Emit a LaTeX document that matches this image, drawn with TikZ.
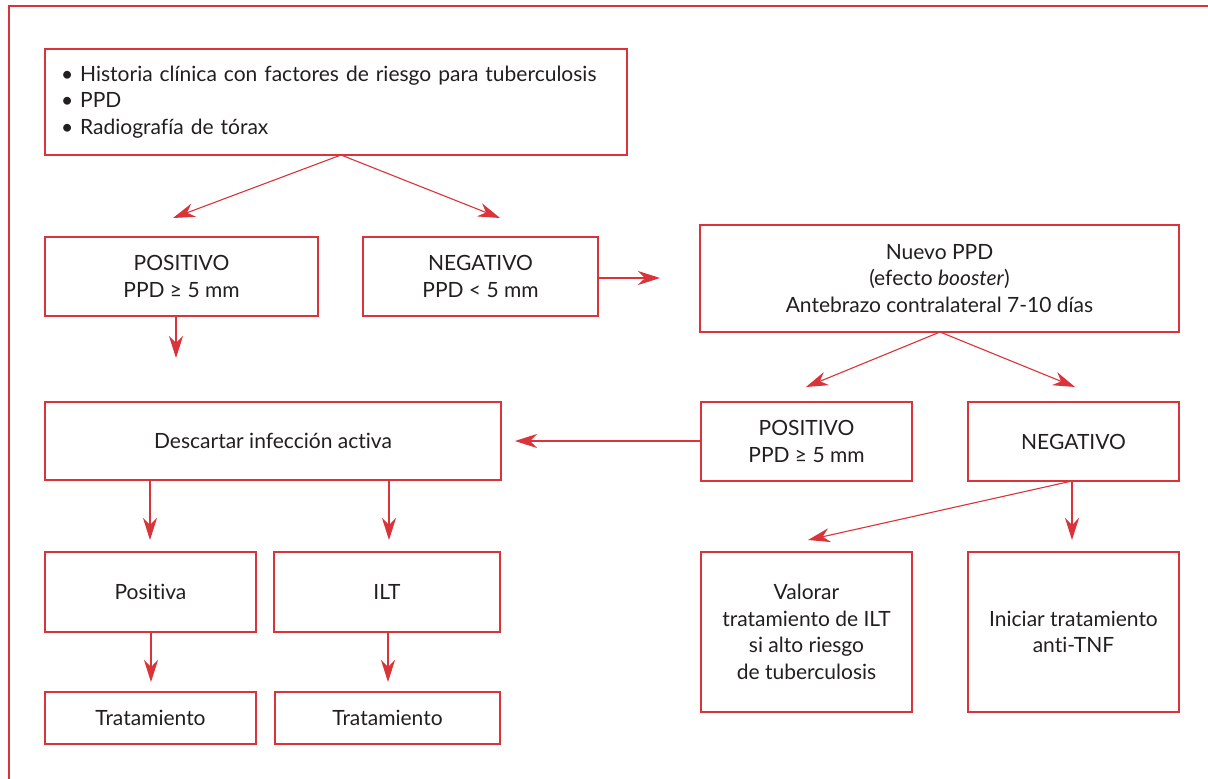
\documentclass[tikz,border=0pt]{standalone}
\usepackage{fontspec}
\setmainfont{Lato}[Ligatures=NoCommon]
\usetikzlibrary{arrows.meta}
\definecolor{fred}{RGB}{218,52,58}
\definecolor{ftext}{RGB}{35,31,32}
\begin{document}
\begin{tikzpicture}[x=1pt,y=-1pt,
  every node/.style={font=\fontsize{21}{26.5}\selectfont, text=ftext},
  box/.style={draw=fred, line width=1.3pt, inner sep=0pt, align=center},
  arr/.style={draw=fred, line width=1.1pt, -{Stealth[length=22pt,width=14pt,inset=7pt]}}]
\useasboundingbox (0,0) rectangle (1208,779);
\fill[white] (0,0) rectangle (1208,779);
% frame
\draw[fred, line width=1.4pt] (9,779) -- (9,6) -- (1208,6);
% boxes
\node[box, minimum width=582, minimum height=106, text width=550, align=left] (top) at (336,102)
  {• Historia clínica con factores de riesgo para tuberculosis\\• PPD\\• Radiografía de tórax};
\node[box, minimum width=273, minimum height=79] (pos1) at (181.5,276.5) {POSITIVO\\PPD ≥ 5 mm};
\node[box, minimum width=235, minimum height=79] (neg1) at (480.5,276.5) {NEGATIVO\\PPD < 5 mm};
\node[box, minimum width=479, minimum height=107] (nuevo) at (939.5,278.5)
  {Nuevo PPD\\(efecto \textit{booster})\\Antebrazo contralateral 7-10 días};
\node[box, minimum width=456, minimum height=78] (desc) at (273,441) {Descartar infección activa};
\node[box, minimum width=211, minimum height=79] (pos2) at (806.5,441.5) {POSITIVO\\PPD ≥ 5 mm};
\node[box, minimum width=211, minimum height=79] (neg2) at (1073.5,441.5) {NEGATIVO};
\node[box, minimum width=211, minimum height=80] (posi) at (150.5,592) {Positiva};
\node[box, minimum width=226, minimum height=80] (ilt) at (387,592) {ILT};
\node[box, minimum width=211, minimum height=52] (trat1) at (150.5,718) {Tratamiento};
\node[box, minimum width=225, minimum height=52] (trat2) at (387.5,718) {Tratamiento};
\node[box, minimum width=211, minimum height=160] (valo) at (806.5,632)
  {Valorar\\tratamiento de ILT\\si alto riesgo\\de tuberculosis};
\node[box, minimum width=211, minimum height=160] (inic) at (1073.5,632)
  {Iniciar tratamiento\\anti-TNF};
% arrow tips
\coordinate (a1) at (173,218);
\coordinate (a2) at (500,218);
\coordinate (a3) at (176,358);
\coordinate (a4) at (660,278);
\coordinate (a5) at (806,387);
\coordinate (a6) at (1075,387);
\coordinate (a7) at (515,441);
\coordinate (a8) at (150,540);
\coordinate (a9) at (389,540);
\coordinate (a10) at (808,540);
\coordinate (a11) at (1072,540);
\coordinate (a12) at (151,682);
\coordinate (a13) at (388,682);
\coordinate (s1) at (341,155);
\coordinate (s2) at (940,332);
\coordinate (s3) at (1072,481);
% arrows
\draw[arr] (s1) -- (a1);
\draw[arr] (s1) -- (a2);
\draw[arr] (pos1.south -| a3) -- (a3);
\draw[arr] (a4 -| neg1.east) -- (a4);
\draw[arr] (s2) -- (a5);
\draw[arr] (s2) -- (a6);
\draw[arr] (a7 -| pos2.west) -- (a7);
\draw[arr] (desc.south -| a8) -- (a8);
\draw[arr] (desc.south -| a9) -- (a9);
\draw[arr] (s3) -- (a10);
\draw[arr] (s3) -- (a11);
\draw[arr] (posi.south -| a12) -- (a12);
\draw[arr] (ilt.south -| a13) -- (a13);
\end{tikzpicture}
\end{document}
